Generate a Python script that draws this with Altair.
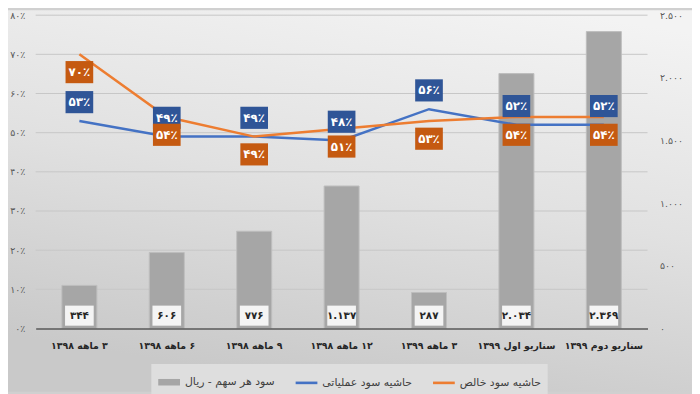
import altair as alt
import pandas as pd

RLM = "\u200f"
categories = [
    "۳ ماهه ۱۳۹۸",
    "۶ ماهه ۱۳۹۸",
    "۹ ماهه ۱۳۹۸",
    "۱۲ ماهه ۱۳۹۸",
    "۳ ماهه ۱۳۹۹",
    "سناریو اول ۱۳۹۹",
    "سناریو دوم ۱۳۹۹",
]
eps = [344, 606, 776, 1137, 287, 2034, 2369]
op_margin = [53, 49, 49, 48, 56, 52, 52]
net_margin = [70, 54, 49, 51, 53, 54, 54]

series_names = ["سود هر سهم - ریال", "حاشیه سود عملیاتی", "حاشیه سود خالص"]
series_colors = ["#A6A6A6", "#4472C4", "#ED7D31"]

left_ticks = [0, 10, 20, 30, 40, 50, 60, 70, 80]
right_ticks = [0, 500, 1000, 1500, 2000, 2500]

FA = str.maketrans("0123456789", "۰۱۲۳۴۵۶۷۸۹")


def fa(s):
    return str(s).translate(FA)


def thousands(n):
    return fa(f"{n:,}".replace(",", "."))


cats = [RLM + c for c in categories]
df = pd.DataFrame({
    "cat": cats,
    "eps": eps,
    "op": op_margin,
    "net": net_margin,
    "eps_lbl": [thousands(v) for v in eps],
    "op_lbl": [fa(v) + "٪" for v in op_margin],
    "net_lbl": [fa(v) + "٪" for v in net_margin],
})
legend_df = pd.DataFrame({"series": series_names, "cat": cats[:3]})
grid_df = pd.DataFrame({"tick": left_ticks[1:]})

FONT = "DejaVu Sans"
left_labels = "[" + ",".join("'" + fa(v) + "٪'" for v in left_ticks) + "][round(datum.value/10)]"
right_labels = "[" + ",".join("'" + thousands(v) + "'" for v in right_ticks) + "][round(datum.value/500)]"

x_enc = alt.X("cat:N", sort=cats, title=None,
              scale=alt.Scale(paddingInner=0.6, paddingOuter=0.3),
              axis=alt.Axis(labelAngle=0, ticks=False, domainColor="#595959", domainWidth=1.5,
                            labelFont=FONT, labelFontSize=9.5, labelFontWeight="bold",
                            labelColor="#262626", labelPadding=12, grid=False, zindex=1))

left_axis = alt.Axis(orient="left", values=left_ticks, labelExpr=left_labels, grid=False,
                     domain=False, ticks=False, zindex=1,
                     labelPadding=11, labelFont=FONT, labelFontSize=9.5, labelColor="#595959")
right_axis = alt.Axis(orient="right", values=right_ticks, labelExpr=right_labels, grid=False,
                      domain=False, ticks=False, labelPadding=12, labelFont=FONT, zindex=1,
                      labelFontSize=9.5, labelColor="#595959")

lscale = alt.Scale(domain=[0, 80])
rscale = alt.Scale(domain=[0, 2500])


def yl(field):
    return alt.Y(f"{field}:Q", scale=lscale, axis=left_axis, title=None)


def yr(field):
    return alt.Y(f"{field}:Q", scale=rscale, axis=right_axis, title=None)


base = alt.Chart(df)

BOX = "M-1,-0.8L1,-0.8L1,0.8L-1,0.8Z"
WBOX = "M-1,-0.7L1,-0.7L1,0.7L-1,0.7Z"

grid = alt.Chart(grid_df).mark_rule(color="#C6C6C6", strokeWidth=1).encode(
    y=alt.Y("tick:Q", scale=lscale, axis=None))

bars = base.mark_bar(color="#A6A6A6", stroke="#BDBDBD", strokeWidth=1).encode(x=x_enc, y=yr("eps"))
barbox = base.mark_point(shape=WBOX, size=841, filled=True, color="#F4F4F4", opacity=1,
                         yOffset=-13).encode(x=x_enc, y=alt.Y("zero:Q", scale=rscale, axis=right_axis, title=None)).transform_calculate(zero="0")
bartext = base.mark_text(font=FONT, fontSize=10.5, fontWeight="bold", color="#262626",
                         yOffset=-13).encode(x=x_enc, y=alt.Y("zero:Q", scale=rscale, axis=right_axis, title=None), text="eps_lbl:N").transform_calculate(zero="0")
right = alt.layer(bars, barbox, bartext)

leg = alt.Legend(orient="none", legendX=117, legendY=353, direction="horizontal",
                 symbolSize=484, symbolOpacity=1, labelFont=FONT,
                 labelFontSize=11, labelColor="#404040", fillColor="#DEDEDE",
                 padding=6, columnPadding=18, labelOffset=4)

opline = base.mark_line(color="#4472C4", strokeWidth=2.5).encode(x=x_enc, y=yl("op"))
netline = base.mark_line(color="#ED7D31", strokeWidth=2.5).encode(x=x_enc, y=yl("net"))
legpts = alt.Chart(legend_df).mark_point(size=0, filled=True).encode(
    x=x_enc,
    y=alt.Y("z:Q", scale=lscale, axis=left_axis, title=None),
    color=alt.Color("series:N", scale=alt.Scale(domain=series_names, range=series_colors),
                    title=None, legend=leg),
    shape=alt.Shape("series:N", scale=alt.Scale(domain=series_names,
                                                range=["M-1,-0.3L1,-0.3L1,0.3L-1,0.3Z",
                                                       "M-1,-0.12L1,-0.12L1,0.12L-1,0.12Z",
                                                       "M-1,-0.12L1,-0.12L1,0.12L-1,0.12Z"]),
                    title=None, legend=leg),
).transform_calculate(z="0")
opbox = base.mark_point(shape=BOX, size=784, filled=True, color="#2F5597", opacity=1,
                        yOffset=-19).encode(x=x_enc, y=yl("op"))
optext = base.mark_text(font=FONT, fontSize=12, fontWeight="bold", color="white",
                        yOffset=-19).encode(x=x_enc, y=yl("op"), text="op_lbl:N")
netbox = base.mark_point(shape=BOX, size=784, filled=True, color="#C55A11", opacity=1,
                         yOffset=18).encode(x=x_enc, y=yl("net"))
nettext = base.mark_text(font=FONT, fontSize=12, fontWeight="bold", color="white",
                         yOffset=18).encode(x=x_enc, y=yl("net"), text="net_lbl:N")
left = alt.layer(opline, netline, legpts, opbox, optext, netbox, nettext)

grad = alt.LinearGradient(gradient="linear",
                          stops=[alt.GradientStop(color="#F3F3F3", offset=0),
                                 alt.GradientStop(color="#E1E1E1", offset=0.5),
                                 alt.GradientStop(color="#C9C9C9", offset=1)],
                          x1=0.8, y1=0, x2=0.5, y2=1)
bg = alt.Chart(pd.DataFrame({"a": [0]})).mark_rect(fill=grad).encode(
    x=alt.value(-28), x2=alt.value(664), y=alt.value(-5), y2=alt.value(381))

chart = alt.layer(bg, grid, right, left).resolve_scale(y="independent").properties(
    width=619, height=317,
    autosize=alt.AutoSizeParams(type="none"),
    padding={"left": 28, "top": 5, "right": 45, "bottom": 64},
).configure(background="#D0D0D0").configure_view(stroke=None)

chart.save("out.html", embed_options={"renderer": "svg", "actions": False})
